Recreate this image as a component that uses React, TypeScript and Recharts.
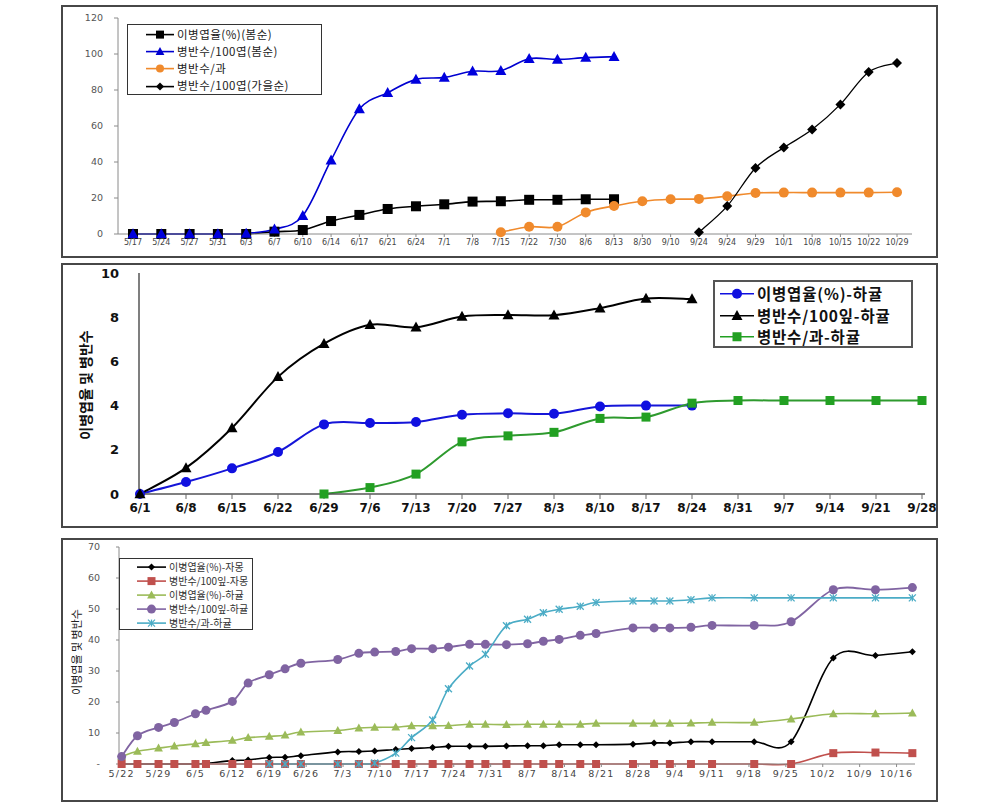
import { Line, LineChart, XAxis, YAxis } from "recharts";

// ---------- 1. 봄순 / 가을순 ----------
const dates1 = ["5/17", "5/24", "5/27", "5/31", "6/3", "6/7", "6/10", "6/14", "6/17", "6/21", "6/24", "7/1", "7/8", "7/15", "7/22", "7/30", "8/6", "8/13", "8/30", "9/10", "9/24", "9/24", "9/29", "10/1", "10/8", "10/15", "10/22", "10/29"];
const leafRateSpring = [0, 0, 0, 0, 0, 1.3, 2.2, 7.2, 10.6, 13.9, 15.4, 16.5, 18, 18.2, 19, 19, 19.3, 19.3, null, null, null, null, null, null, null, null, null, null];
const lesionSpring = [0, 0, 0, 0, 0.3, 2.6, 10.2, 41, 69.4, 78.5, 85.9, 87, 90.4, 90.7, 97.4, 97, 98, 98.5, null, null, null, null, null, null, null, null, null, null];
const lesionFruit1 = [null, null, null, null, null, null, null, null, null, null, null, null, null, 1, 4, 4, 12, 15.6, 18.2, 19.3, 19.5, 21, 22.8, 23, 23, 23, 23, 23.2];
const lesionAutumn = [null, null, null, null, null, null, null, null, null, null, null, null, null, null, null, null, null, null, null, null, 1, 15.5, 36.7, 48, 58, 72, 90, 95];
const yTicks1 = [0, 20, 40, 60, 80, 100, 120];

// ---------- 2. 하귤 ----------
const dates2 = ["6/1", "6/8", "6/15", "6/22", "6/29", "7/6", "7/13", "7/20", "7/27", "8/3", "8/10", "8/17", "8/24", "8/31", "9/7", "9/14", "9/21", "9/28"];
const leafRate2 = [0, 0.54, 1.16, 1.9, 3.15, 3.21, 3.26, 3.59, 3.65, 3.63, 3.96, 4.0, 4.0, null, null, null, null, null];
const leafLesion2 = [0, 1.18, 2.99, 5.3, 6.8, 7.66, 7.54, 8.03, 8.1, 8.09, 8.41, 8.85, 8.82, null, null, null, null, null];
const fruitLesion2 = [null, null, null, null, 0, 0.29, 0.9, 2.36, 2.63, 2.79, 3.42, 3.48, 4.11, 4.23, 4.23, 4.23, 4.23, 4.23];
const yTicks2 = [0, 2, 4, 6, 8, 10];

// ---------- 3. 자몽 / 하귤 ----------
const dates3 = ["5/22", "5/25", "5/29", "6/1", "6/5", "6/7", "6/12", "6/15", "6/19", "6/22", "6/25", "7/2", "7/6", "7/9", "7/13", "7/16", "7/20", "7/23", "7/27", "7/30", "8/3", "8/7", "8/10", "8/13", "8/17", "8/20", "8/27", "8/31", "9/3", "9/7", "9/11", "9/19", "9/26", "10/4", "10/12", "10/19"];
const rateGrapefruit = [0, 0, 0, 0, 0, 0.2, 1.1, 1.3, 2.1, 2.2, 2.7, 3.9, 4.0, 4.2, 4.7, 5.0, 5.3, 5.7, 5.7, 5.7, 5.8, 5.9, 5.9, 6.2, 6.2, 6.2, 6.4, 6.8, 6.8, 7.2, 7.2, 7.2, 7.2, 34.2, 35.0, 36.2];
const lesionGrapefruit = [0, 0, 0, 0, 0, 0, 0, 0, 0, 0, 0, 0, 0, 0, 0, 0, 0, 0, 0, 0, 0, 0, 0, 0, 0, 0, 0, 0, 0, 0, 0, 0, 0, 3.5, 3.7, 3.5];
const rateHagyul = [2.4, 4.1, 5.1, 5.8, 6.5, 6.9, 7.6, 8.5, 8.9, 9.3, 10.3, 10.8, 11.6, 11.8, 11.9, 12.3, 12.3, 12.4, 12.8, 12.8, 12.7, 12.8, 12.8, 12.8, 12.8, 13.1, 13.1, 13.1, 13.1, 13.2, 13.4, 13.4, 14.5, 16.2, 16.2, 16.4];
const lesionHagyul = [2.4, 9.1, 11.8, 13.4, 16.2, 17.3, 20.2, 26.1, 28.8, 30.7, 32.5, 33.7, 35.7, 36.1, 36.3, 37.2, 37.2, 37.7, 38.6, 38.6, 38.5, 38.8, 39.6, 40.2, 41.5, 42.1, 43.9, 43.9, 43.9, 44.1, 44.7, 44.7, 45.9, 56.2, 56.2, 56.9];
const fruitHagyul = [null, null, null, null, null, null, null, null, 0, 0, 0, 0, 0, 0.3, 3.5, 8.5, 14.2, 24.3, 31.6, 35.4, 44.6, 46.7, 48.8, 49.9, 50.9, 52.1, 52.6, 52.6, 52.6, 53.0, 53.6, 53.6, 53.6, 53.6, 53.6, 53.6];
const xTicks3 = ["5/22", "5/29", "6/5", "6/12", "6/19", "6/26", "7/3", "7/10", "7/17", "7/24", "7/31", "8/7", "8/14", "8/21", "8/28", "9/4", "9/11", "9/18", "9/25", "10/2", "10/9", "10/16"];
const yTicks3 = [0, 10, 20, 30, 40, 50, 60, 70];

const monthStart = [0, 31, 59, 90, 120, 151, 181, 212, 243, 273, 304, 334];
const toDay = (s: string) => {
  const [m, d] = s.split("/").map(Number);
  return monthStart[m - 1] + d;
};

const rows1 = dates1.map((d, i) => ({ d, a: leafRateSpring[i], b: lesionSpring[i], c: lesionFruit1[i], e: lesionAutumn[i] }));
const rows2 = dates2.map((d, i) => ({ d, a: leafRate2[i], b: leafLesion2[i], c: fruitLesion2[i] }));
const rows3 = dates3.map((d, i) => ({
  x: toDay(d),
  a: rateGrapefruit[i],
  b: lesionGrapefruit[i],
  c: rateHagyul[i],
  e: lesionHagyul[i],
  f: fruitHagyul[i],
}));
const tickLabel3 = new Map(xTicks3.map((t) => [toDay(t), t]));

// excel-like smoothed line (catmull-rom through the points)
const smooth = (ctx: any) => {
  let pts: number[][] = [];
  return {
    areaStart() {},
    areaEnd() {},
    lineStart() {
      pts = [];
    },
    point(x: number, y: number) {
      pts.push([+x, +y]);
    },
    lineEnd() {
      if (!pts.length) return;
      ctx.moveTo(pts[0][0], pts[0][1]);
      for (let i = 0; i < pts.length - 1; i++) {
        const p0 = pts[Math.max(i - 1, 0)];
        const p1 = pts[i];
        const p2 = pts[i + 1];
        const p3 = pts[Math.min(i + 2, pts.length - 1)];
        ctx.bezierCurveTo(
          p1[0] + (p2[0] - p0[0]) / 6,
          p1[1] + (p2[1] - p0[1]) / 6,
          p2[0] - (p3[0] - p1[0]) / 6,
          p2[1] - (p3[1] - p1[1]) / 6,
          p2[0],
          p2[1]
        );
      }
    },
  };
};

type Shape = "square" | "triangle" | "circle" | "diamond" | "star";

function Mark({ shape, x, y, r, color }: { shape: Shape; x: number; y: number; r: number; color: string }) {
  if (shape === "square") return <rect x={x - r} y={y - r} width={2 * r} height={2 * r} fill={color} />;
  if (shape === "circle") return <circle cx={x} cy={y} r={r} fill={color} />;
  if (shape === "diamond")
    return <polygon points={`${x},${y - r} ${x + r},${y} ${x},${y + r} ${x - r},${y}`} fill={color} />;
  if (shape === "triangle")
    return (
      <polygon
        points={`${x},${y - r * 1.15} ${x + r * 1.1},${y + r * 0.85} ${x - r * 1.1},${y + r * 0.85}`}
        fill={color}
      />
    );
  return (
    <g stroke={color} strokeWidth={1.3}>
      <line x1={x - r} y1={y - r} x2={x + r} y2={y + r} />
      <line x1={x - r} y1={y + r} x2={x + r} y2={y - r} />
      <line x1={x} y1={y - r} x2={x} y2={y + r} />
    </g>
  );
}

const dot = (shape: Shape, color: string, r: number) => (p: any) => {
  const { cx, cy, index, value } = p;
  if (value == null || !Number.isFinite(cx) || !Number.isFinite(cy)) return <g key={index} />;
  return (
    <g key={index}>
      <Mark shape={shape} x={cx} y={cy} r={r} color={color} />
    </g>
  );
};

interface LegendItem {
  label: string;
  color: string;
  shape: Shape;
  r: number;
}

function LegendBox({
  items,
  style,
  rowH,
  iconW,
  font,
  pad,
}: {
  items: LegendItem[];
  style: React.CSSProperties;
  rowH: number;
  iconW: number;
  font: React.CSSProperties;
  pad: number;
}) {
  return (
    <div style={{ position: "absolute", boxSizing: "border-box", background: "#fff", ...style }}>
      {items.map((it) => (
        <div key={it.label} style={{ display: "flex", alignItems: "center", height: rowH, paddingLeft: pad }}>
          <svg width={iconW} height={rowH} style={{ flex: "none" }}>
            <line x1={0} y1={rowH / 2} x2={iconW} y2={rowH / 2} stroke={it.color} strokeWidth={1.6} />
            <Mark shape={it.shape} x={iconW / 2} y={rowH / 2} r={it.r} color={it.color} />
          </svg>
          <span style={{ whiteSpace: "nowrap", marginLeft: 3, lineHeight: 1, ...font }}>{it.label}</span>
        </div>
      ))}
    </div>
  );
}

const panel = (top: number, height: number): React.CSSProperties => ({
  position: "absolute",
  left: 61,
  top,
  width: 877,
  height,
  border: "2px solid #474747",
  boxSizing: "border-box",
  background: "#fff",
});

const frame = "#8a8a8a";
const sans = "'DejaVu Sans', 'Noto Sans CJK KR', sans-serif";
const kr = "'Noto Sans CJK KR', sans-serif";

function ChartSpring() {
  const legend: LegendItem[] = [
    { label: "이병엽율(%)(봄순)", color: "#000", shape: "square", r: 4 },
    { label: "병반수/100엽(봄순)", color: "#0000d0", shape: "triangle", r: 4 },
    { label: "병반수/과", color: "#f08a2c", shape: "circle", r: 4 },
    { label: "병반수/100엽(가을순)", color: "#000", shape: "diamond", r: 4 },
  ];
  return (
    <div style={panel(5, 253)}>
      <LineChart width={873} height={249} data={rows1} margin={{ top: 11, right: 24, bottom: 0, left: 0 }}>
        <XAxis
          dataKey="d"
          interval={0}
          height={22}
          padding={{ left: 15, right: 15 }}
          tick={{ fontSize: 8, fill: "#444", fontFamily: sans }}
          tickSize={3}
          tickMargin={2}
          tickLine={{ stroke: frame }}
          axisLine={{ stroke: frame }}
        />
        <XAxis xAxisId="top" orientation="top" dataKey="d" height={0} tick={false} tickLine={false} axisLine={{ stroke: frame }} />
        <YAxis
          domain={[0, 120]}
          ticks={yTicks1}
          width={55}
          tick={{ fontSize: 9.5, fill: "#555", fontFamily: sans }}
          tickSize={4}
          tickMargin={11}
          tickLine={{ stroke: frame }}
          axisLine={{ stroke: frame }}
        />
        <YAxis yAxisId="r" orientation="right" domain={[0, 1]} width={0} tick={false} tickLine={false} axisLine={{ stroke: frame }} />
        <Line dataKey="a" type={smooth as any} stroke="#000" strokeWidth={1.6} dot={dot("square", "#000", 5)} isAnimationActive={false} />
        <Line dataKey="b" type={smooth as any} stroke="#0000d0" strokeWidth={1.6} dot={dot("triangle", "#0000dd", 5)} isAnimationActive={false} />
        <Line dataKey="c" type={smooth as any} stroke="#f08a2c" strokeWidth={1.6} dot={dot("circle", "#f08a2c", 5)} isAnimationActive={false} />
        <Line dataKey="e" type={smooth as any} stroke="#000" strokeWidth={1.3} dot={dot("diamond", "#000", 5)} isAnimationActive={false} />
      </LineChart>
      <LegendBox
        items={legend}
        style={{ left: 64, top: 17, width: 195, height: 71, border: "1.5px solid #333", paddingTop: 1 }}
        rowH={17.2}
        iconW={28}
        pad={18}
        font={{ fontSize: 11.5, fontFamily: kr, color: "#222", letterSpacing: 0.5 }}
      />
    </div>
  );
}

function ChartHagyul() {
  const legend: LegendItem[] = [
    { label: "이병엽율(%)-하귤", color: "#1010e0", shape: "circle", r: 5 },
    { label: "병반수/100잎-하귤", color: "#000", shape: "triangle", r: 5 },
    { label: "병반수/과-하귤", color: "#22a022", shape: "square", r: 4.5 },
  ];
  return (
    <div style={panel(263, 265)}>
      <LineChart width={873} height={261} data={rows2} margin={{ top: 8, right: 11, bottom: 0, left: 0 }}>
        <XAxis
          dataKey="d"
          interval={0}
          height={32}
          padding={{ left: 1, right: 3 }}
          tick={{ fontSize: 12, fontWeight: "bold", fill: "#111", fontFamily: sans }}
          tickSize={5}
          tickMargin={4}
          tickLine={{ stroke: "#666" }}
          axisLine={{ stroke: "#555", strokeWidth: 1.5 }}
        />
        <XAxis xAxisId="top" orientation="top" dataKey="d" height={0} tick={false} tickLine={false} axisLine={{ stroke: frame, strokeWidth: 1.5 }} />
        <YAxis
          domain={[0, 10]}
          ticks={yTicks2}
          width={76}
          tick={{ fontSize: 13, fontWeight: "bold", fill: "#111", fontFamily: sans }}
          tickSize={0}
          tickMargin={20}
          axisLine={{ stroke: "#555", strokeWidth: 1.5 }}
        />
        <YAxis yAxisId="r" orientation="right" domain={[0, 1]} width={0} tick={false} tickLine={false} axisLine={{ stroke: frame, strokeWidth: 1.5 }} />
        <Line dataKey="a" type={smooth as any} stroke="#1515d8" strokeWidth={2} dot={dot("circle", "#1010e0", 5)} isAnimationActive={false} />
        <Line dataKey="b" type={smooth as any} stroke="#000" strokeWidth={2} dot={dot("triangle", "#000", 5)} isAnimationActive={false} />
        <Line dataKey="c" type={smooth as any} stroke="#2e9a2e" strokeWidth={2} dot={dot("square", "#22a022", 4.5)} isAnimationActive={false} />
      </LineChart>
      <LegendBox
        items={legend}
        style={{ left: 650, top: 15, width: 200, height: 68, border: "2px solid #555", paddingTop: 1 }}
        rowH={21.5}
        iconW={34}
        pad={5}
        font={{ fontSize: 15.5, fontWeight: "bold", fontFamily: kr, color: "#111", letterSpacing: 0.8 }}
      />
      <div
        style={{
          position: "absolute",
          left: 22,
          top: 120,
          transform: "translate(-50%, -50%) rotate(-90deg)",
          whiteSpace: "nowrap",
          fontFamily: kr,
          fontWeight: "bold",
          fontSize: 14,
          lineHeight: 1,
          color: "#111",
        }}
      >
        이병엽율 및 병반수
      </div>
    </div>
  );
}

function ChartMixed() {
  const legend: LegendItem[] = [
    { label: "이병엽율(%)-자몽", color: "#000", shape: "diamond", r: 3.5 },
    { label: "병반수/100잎-자몽", color: "#c0504d", shape: "square", r: 4 },
    { label: "이병엽율(%)-하귤", color: "#9bbb59", shape: "triangle", r: 4 },
    { label: "병반수/100잎-하귤", color: "#8064a2", shape: "circle", r: 4.5 },
    { label: "병반수/과-하귤", color: "#4bacc6", shape: "star", r: 3.5 },
  ];
  return (
    <div style={panel(538, 264)}>
      <LineChart width={873} height={260} data={rows3} margin={{ top: 7, right: 21, bottom: 0, left: 0 }}>
        <XAxis
          dataKey="x"
          type="number"
          domain={[141.5, 292.5]}
          ticks={xTicks3.map(toDay)}
          tickFormatter={(v) => tickLabel3.get(v) ?? ""}
          interval={0}
          height={36}
          tick={{ fontSize: 9.5, fill: "#444", fontFamily: sans, letterSpacing: 1.2 }}
          tickSize={3}
          tickMargin={3}
          tickLine={{ stroke: frame }}
          axisLine={{ stroke: frame }}
        />
        <XAxis xAxisId="top" orientation="top" dataKey="x" type="number" domain={[141.5, 292.5]} height={0} tick={false} tickLine={false} axisLine={{ stroke: frame }} />
        <YAxis
          domain={[0, 70]}
          ticks={yTicks3}
          width={56}
          tickFormatter={(v) => (v === 0 ? "-" : String(v))}
          tick={{ fontSize: 9.5, fill: "#555", fontFamily: sans }}
          tickSize={3}
          tickMargin={16}
          tickLine={{ stroke: frame }}
          axisLine={{ stroke: frame }}
        />
        <YAxis yAxisId="r" orientation="right" domain={[0, 1]} width={0} tick={false} tickLine={false} axisLine={{ stroke: frame }} />
        <Line dataKey="a" type={smooth as any} stroke="#000" strokeWidth={1.6} dot={dot("diamond", "#000", 3.5)} isAnimationActive={false} />
        <Line dataKey="b" type={smooth as any} stroke="#c0504d" strokeWidth={1.6} dot={dot("square", "#c0504d", 4)} isAnimationActive={false} />
        <Line dataKey="c" type={smooth as any} stroke="#9bbb59" strokeWidth={1.6} dot={dot("triangle", "#9bbb59", 4)} isAnimationActive={false} />
        <Line dataKey="e" type={smooth as any} stroke="#8064a2" strokeWidth={1.8} dot={dot("circle", "#8064a2", 4.5)} isAnimationActive={false} />
        <Line dataKey="f" type={smooth as any} stroke="#4bacc6" strokeWidth={1.6} dot={dot("star", "#4bacc6", 3.5)} isAnimationActive={false} />
      </LineChart>
      <LegendBox
        items={legend}
        style={{ left: 56, top: 18, width: 134, height: 72, border: "1.5px solid #333", paddingTop: 0.5 }}
        rowH={14.2}
        iconW={29}
        pad={17}
        font={{ fontSize: 10, fontFamily: kr, color: "#333", letterSpacing: 0 }}
      />
      <div
        style={{
          position: "absolute",
          left: 13,
          top: 112,
          transform: "translate(-50%, -50%) rotate(-90deg)",
          whiteSpace: "nowrap",
          fontFamily: kr,
          fontSize: 11,
          lineHeight: 1,
          color: "#222",
        }}
      >
        이병엽율 및 병반수
      </div>
    </div>
  );
}

export default function App() {
  return (
    <div style={{ position: "absolute", left: 0, top: 0, width: 982, height: 810, background: "#fff" }}>
      <ChartSpring />
      <ChartHagyul />
      <ChartMixed />
    </div>
  );
}
